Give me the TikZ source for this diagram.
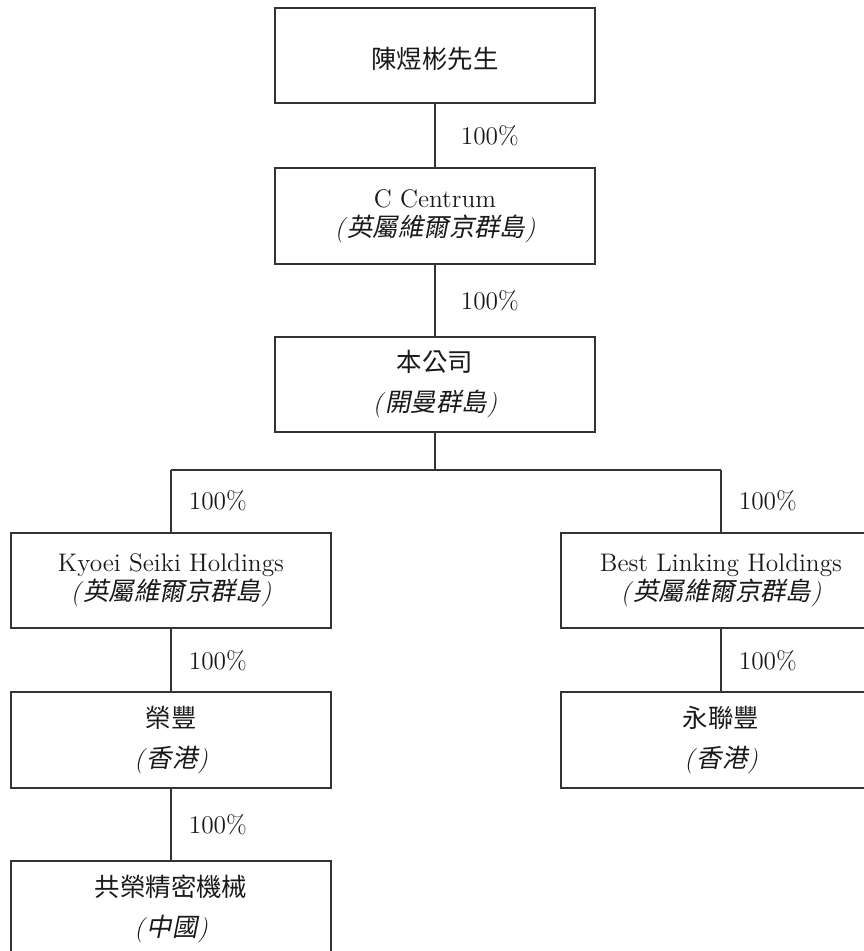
\documentclass[tikz,border=0pt]{standalone}
\usepackage{fontspec}
\newfontfamily\cjk{Noto Sans CJK TC}
\newfontfamily\cjkit[FakeSlant=0.2]{Noto Sans CJK TC}
\usepackage{tikz}
\usetikzlibrary{positioning}
\tikzstyle{block} = [rectangle, draw=black!80, line width=0.8pt, text=black!90,
    align=center, minimum width=160pt, minimum height=47.75pt, inner sep=0pt,
    font=\fontsize{12.7}{14.5}\selectfont, execute at begin node={\rule{0pt}{14pt}}]
\tikzstyle{line} = [draw=black!80, line width=0.8pt]
\tikzstyle{pct} = [inner xsep=12.5pt, text=black!90, font=\fontsize{12.7}{14.5}\selectfont]
\newcommand{\regn}[1]{\textit{(}{\cjkit #1}\textit{)}}

\begin{document}
\begin{tikzpicture}[x=0.5pt,y=-0.5pt,auto]
    \useasboundingbox (0,0) rectangle (863,951);
    % Place nodes
    \node [block] (chan) at (435,55.5) {\cjk 陳煜彬先生};
    \node [block] (centrum) at (435,216) {C Centrum\\\regn{英屬維爾京群島}};
    \node [block] (company) at (435,384.5) {{\cjk 本公司}\\[5.5pt]\regn{開曼群島}};
    \coordinate (bus) at (435,470);
    \coordinate (busL) at (171,470);
    \coordinate (busR) at (721,470);
    \node [block] (kyoei) at (171,580.5) {Kyoei Seiki Holdings\\\regn{英屬維爾京群島}};
    \node [block] (best) at (721,580.5) {Best Linking Holdings\\\regn{英屬維爾京群島}};
    \node [block] (wingfung) at (171,740) {{\cjk 榮豐}\\[5.5pt]\regn{香港}};
    \node [block] (winglun) at (721,740) {{\cjk 永聯豐}\\[5.5pt]\regn{香港}};
    \node [block] (kyoeiprc) at (171,908.5) {{\cjk 共榮精密機械}\\[5.5pt]\regn{中國}};
    % Draw edges
    \path [line] (chan) -- node[pct] {100\%} (centrum);
    \path [line] (centrum) -- node[pct] {100\%} (company);
    \path [line] (company) -- (bus);
    \path [line] (busL) -- (busR);
    \path [line] (busL) -- node[pct,inner xsep=8.5pt] {100\%} (kyoei);
    \path [line] (busR) -- node[pct,inner xsep=8.5pt] {100\%} (best);
    \path [line] (kyoei) -- node[pct,inner xsep=8.5pt] {100\%} (wingfung);
    \path [line] (best) -- node[pct,inner xsep=8.5pt] {100\%} (winglun);
    \path [line] (wingfung) -- node[pct,inner xsep=8.5pt] {100\%} (kyoeiprc);
\end{tikzpicture}
\end{document}
